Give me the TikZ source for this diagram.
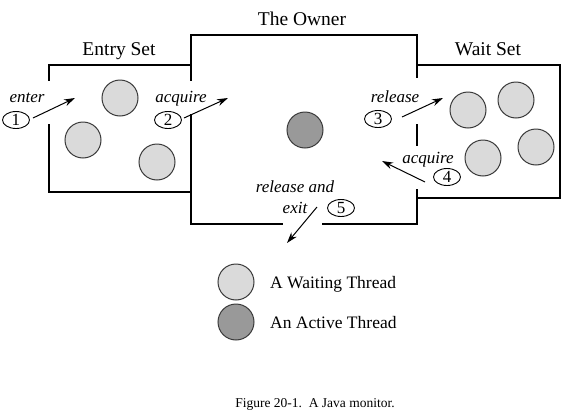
\documentclass[tikz,border=0pt]{standalone}
\usepackage{fontspec}
\setmainfont{Liberation Serif}
\usetikzlibrary{arrows.meta,shapes.geometric}
\definecolor{waitfill}{HTML}{DADADA}
\definecolor{activefill}{HTML}{999999}
\definecolor{rim}{HTML}{3A3A3A}
\tikzset{
  wall/.style={line width=1.2pt, line cap=rect},
  title/.style={font=\fontsize{19.5}{22}\selectfont, anchor=base, inner sep=0},
  lbl/.style={font=\fontsize{17}{19}\selectfont\itshape, anchor=base, inner sep=0},
  num/.style={draw, ellipse, line width=0.9pt, minimum width=27pt, minimum height=17pt, inner sep=0, font=\fontsize{17}{19}\selectfont},
  waiting/.style={circle, draw=rim, fill=waitfill, line width=1pt, minimum size=36pt, inner sep=0},
  active/.style={circle, draw=rim, fill=activefill, line width=1pt, minimum size=36pt, inner sep=0},
  arr/.style={line width=1pt, -{Stealth[length=11pt,width=7pt]}},
  legend/.style={font=\fontsize{17.5}{20}\selectfont, anchor=base west, inner sep=0},
  caption/.style={font=\fontsize{13.5}{16}\selectfont, anchor=base, inner sep=0}
}
\begin{document}
\begin{tikzpicture}[x=1pt,y=-1pt]
\useasboundingbox (0,0) rectangle (563,418);
% walls
\draw[wall] (49,80) -- (49,65) -- (191,65);
\draw[wall] (49,125) -- (49,192) -- (191,192);
\draw[wall] (191,80) -- (191,35) -- (417,35) -- (417,77);
\draw[wall] (191,115) -- (191,224) -- (282,224);
\draw[wall] (323,224) -- (417,224) -- (417,190);
\draw[wall] (417,125) -- (417,145);
\draw[wall] (417,65) -- (560,65) -- (560,198) -- (417,198);
% titles
\node[title] (tEntry) at (119,55) {Entry Set};
\node[title] (tOwner) at (302,25) {The Owner};
\node[title] (tWait) at (488,55) {Wait Set};
% threads
\node[waiting] (w1) at (120,98) {};
\node[waiting] (w2) at (83,140) {};
\node[waiting] (w3) at (157,162) {};
\node[active] (a1) at (305,130) {};
\node[waiting] (w4) at (468,110) {};
\node[waiting] (w5) at (516,100) {};
\node[waiting] (w6) at (483,158) {};
\node[waiting] (w7) at (536,147) {};
% labels
\node[lbl] (lEnter) at (27,102) {enter};
\node[num] (n1) at (16,120) {1};
\node[lbl] (lAcq1) at (181,102) {acquire};
\node[num] (n2) at (168,120) {2};
\node[lbl] (lRel) at (395,102) {release};
\node[num] (n3) at (378,119) {3};
\node[lbl] (lAcq2) at (428,163) {acquire};
\node[num] (n4) at (447,177) {4};
\node[lbl] (lRelA) at (295,192) {release and};
\node[lbl] (lExit) at (295,213) {exit};
\node[num] (n5) at (341,208) {5};
% arrow ends
\coordinate (s1) at (33,118); \coordinate (e1) at (75,98);
\coordinate (s2) at (184,118); \coordinate (e2) at (228,98);
\coordinate (s3) at (402,117); \coordinate (e3) at (443,98);
\coordinate (s4) at (425,182); \coordinate (e4) at (382,161);
\coordinate (s5) at (317,207); \coordinate (e5) at (287,243);
\draw[arr] (s1) -- (e1);
\draw[arr] (s2) -- (e2);
\draw[arr] (s3) -- (e3);
\draw[arr] (s4) -- (e4);
\draw[arr] (s5) -- (e5);
% legend
\node[waiting] (lw) at (236,282) {};
\node[active] (la) at (236,322) {};
\node[legend] (tw) at (270,288) {A Waiting Thread};
\node[legend] (ta) at (270,328) {An Active Thread};
% caption
\node[caption] (cap) at (315,407) {Figure 20-1.\ \ A Java monitor.};
\end{tikzpicture}
\end{document}
